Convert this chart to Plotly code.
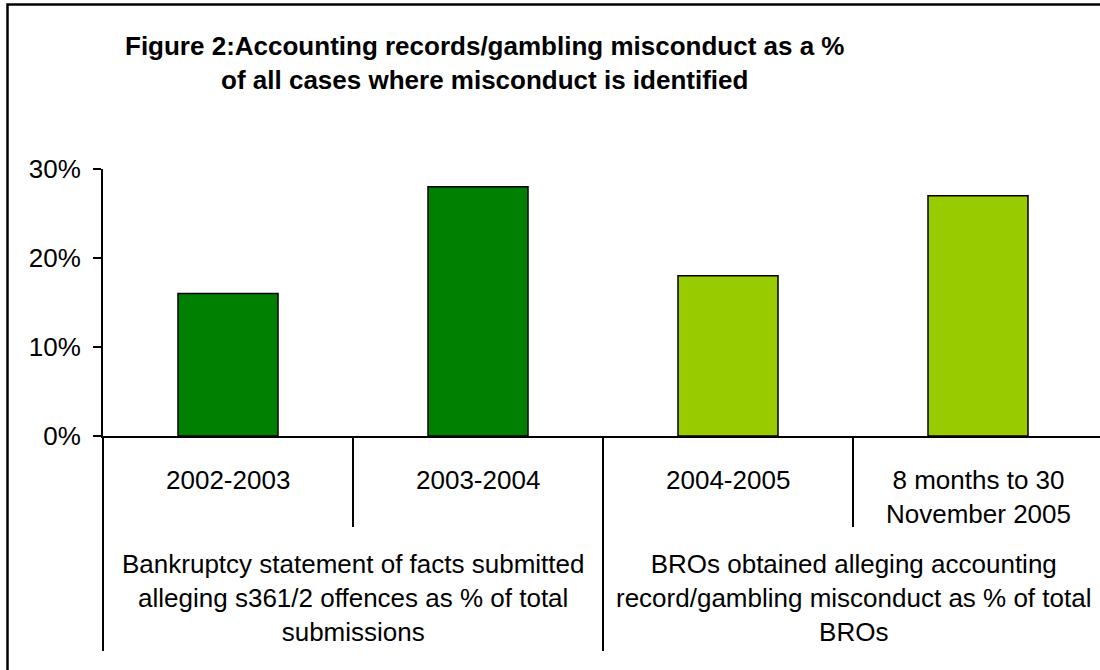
import plotly.graph_objects as go

# ---- data ----
groups = [
    "Bankruptcy statement of facts submitted<br>alleging s361/2 offences as % of total<br>submissions",
    "Bankruptcy statement of facts submitted<br>alleging s361/2 offences as % of total<br>submissions",
    "BROs obtained alleging accounting<br>record/gambling misconduct as % of total<br>BROs",
    "BROs obtained alleging accounting<br>record/gambling misconduct as % of total<br>BROs",
]
periods = ["2002-2003", "2003-2004", "2004-2005", "8 months to 30<br>November 2005"]
values = [16, 28, 18, 27]
y_ticks = [0, 10, 20, 30]
group_colors = {groups[0]: "#008000", groups[2]: "#99CC00"}
title_text = ("<b>Figure 2:Accounting records/gambling misconduct as a %<br>"
              "of all cases where misconduct is identified</b>")

# ---- layout geometry (pixels) ----
W, H = 1100, 670
PLOT_L, PLOT_R, PLOT_T, PLOT_B = 103, 1100, 169, 436
X_MIN, X_MAX = -0.5, 3.488
FONT = "Liberation Sans, Arial, sans-serif"
FS = 26


def px(xp):
    return (xp - PLOT_L) / (PLOT_R - PLOT_L)


def py(yp):
    return (PLOT_B - yp) / (PLOT_B - PLOT_T)


def data_to_paper(xv):
    return (xv - X_MIN) / (X_MAX - X_MIN)


fig = go.Figure(
    go.Bar(
        x=list(range(len(periods))),
        y=values,
        width=0.4,
        marker=dict(
            color=[group_colors[g] for g in groups],
            line=dict(color="black", width=1.5),
        ),
        hoverinfo="skip",
    )
)

shapes = []
# outer frame of the chart
shapes.append(dict(type="rect", xref="paper", yref="paper",
                   x0=px(7.5), x1=px(1115), y0=py(4.5), y1=py(690),
                   line=dict(color="black", width=2.5), fillcolor="rgba(0,0,0,0)"))

# category dividers under the axis: short between periods, long between groups
n = len(periods)
for i in range(n + 1):
    b = i - 0.5
    if b > X_MAX:
        continue
    new_group = i == 0 or i == n or groups[i] != groups[i - 1]
    bottom = 651 if new_group else 527
    shapes.append(dict(type="line", xref="paper", yref="paper",
                       x0=data_to_paper(b), x1=data_to_paper(b),
                       y0=0, y1=py(bottom),
                       line=dict(color="black", width=2)))

annotations = []
# title
annotations.append(dict(xref="paper", yref="paper", x=px(484), y=py(63),
                        xanchor="center", yanchor="middle", showarrow=False,
                        text=title_text, font=dict(family=FONT, size=FS, color="black")))

# period labels
for i, p in enumerate(periods):
    annotations.append(dict(xref="x", yref="paper", x=i, y=py(463),
                            xanchor="center", yanchor="top", showarrow=False,
                            text=p, align="center",
                            font=dict(family=FONT, size=FS, color="black")))

# group labels
seen = []
for g in groups:
    if g in seen:
        continue
    seen.append(g)
    idx = [i for i, gg in enumerate(groups) if gg == g]
    annotations.append(dict(xref="x", yref="paper", x=sum(idx) / len(idx), y=py(598),
                            xanchor="center", yanchor="middle", showarrow=False,
                            text=g, align="center",
                            font=dict(family=FONT, size=FS, color="black")))

fig.update_layout(
    width=W, height=H,
    margin=dict(l=PLOT_L, r=W - PLOT_R, t=PLOT_T, b=H - PLOT_B, pad=0),
    paper_bgcolor="white", plot_bgcolor="white",
    showlegend=False,
    font=dict(family=FONT, size=FS, color="black"),
    shapes=shapes,
    annotations=annotations,
    bargap=0.6,
)
fig.update_xaxes(range=[X_MIN, X_MAX], showticklabels=False, ticks="",
                 showline=True, linecolor="black", linewidth=2,
                 showgrid=False, zeroline=False, fixedrange=True)
fig.update_yaxes(range=[0, 30], tickvals=y_ticks,
                 ticktext=[f"{v}%" for v in y_ticks],
                 ticks="outside", ticklen=8, tickwidth=2, tickcolor="black",
                 ticklabelstandoff=7,
                 showline=True, linecolor="black", linewidth=2,
                 showgrid=False, zeroline=False, fixedrange=True,
                 tickfont=dict(family=FONT, size=FS, color="black"))

fig.write_html("out.html", config={"displayModeBar": False})
